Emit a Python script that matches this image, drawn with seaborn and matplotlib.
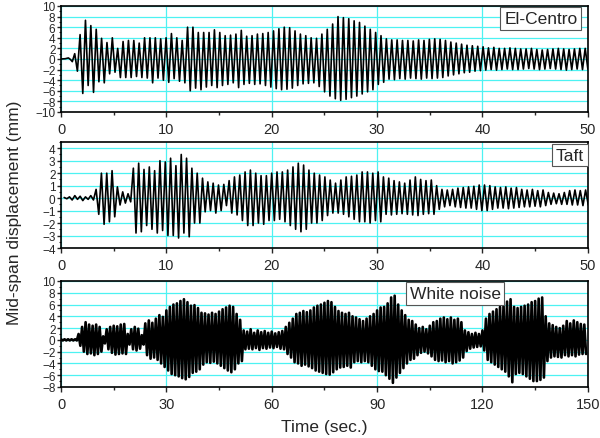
# Mid-span displacement under three excitations

import numpy as np
import matplotlib.pyplot as plt
import seaborn as sns
from matplotlib.ticker import MultipleLocator

sns.set_style("white")
plt.rcParams["font.family"] = ["Liberation Sans", "DejaVu Sans"]

# -----------------------------
# Data
# -----------------------------
# El-Centro: quiet start, then one peak and one trough per cycle
elc_pre_t = [0.0, 0.4, 0.7, 0.9, 1.07]
elc_pre_y = [0.0, 0.05, 0.2, -0.1, -0.5]
elc_t0, elc_period = 1.3, 0.51
elc_pk = [1.0, 4.6, 7.3, 6.3, 5.6, 3.9, 3.1, 4.0, 2.0, 3.3,
          3.5, 3.5, 3.0, 4.0, 4.0, 4.0, 3.8, 4.0, 4.8, 4.0,
          3.5, 6.0, 6.0, 5.0, 5.0, 5.0, 5.5, 5.0, 4.4, 4.5,
          4.7, 5.4, 4.3, 4.4, 4.7, 4.8, 5.0, 5.3, 5.7, 6.0,
          5.9, 5.3, 4.7, 4.4, 4.0, 3.9, 4.7, 5.6, 6.6, 8.0,
          7.8, 7.6, 7.2, 6.9, 6.2, 5.6, 5.0, 4.4, 3.8, 3.6,
          3.6, 3.5, 3.5, 3.4, 3.6, 3.5, 3.7, 3.8, 3.7, 3.5,
          3.2, 3.0, 2.8, 2.6, 2.5, 2.4, 2.3, 2.1, 2.2, 2.0,
          2.0, 2.1, 2.0, 1.9, 1.9, 2.0, 1.8, 1.7, 1.8, 1.9,
          2.0, 1.9, 1.8, 1.9, 2.0, 2.0]
elc_tr = [-2.3, -6.5, -5.0, -6.3, -4.3, -4.5, -2.8, -2.5, -3.5, -3.5,
          -3.5, -3.3, -3.5, -3.6, -4.5, -3.6, -4.0, -4.4, -3.7, -4.2,
          -4.5, -6.0, -5.5, -5.8, -5.3, -5.0, -5.4, -5.0, -4.8, -4.5,
          -5.4, -4.8, -4.6, -4.8, -4.7, -5.0, -5.3, -5.6, -5.8, -5.7,
          -5.5, -5.0, -4.7, -4.6, -4.5, -5.2, -6.2, -7.0, -7.5, -7.8,
          -7.6, -7.3, -7.0, -6.6, -6.2, -5.8, -4.8, -4.4, -3.8, -3.9,
          -3.7, -3.8, -3.6, -3.7, -3.8, -3.6, -3.7, -3.6, -3.5, -3.2,
          -3.0, -2.8, -2.6, -2.5, -2.3, -2.2, -2.1, -2.0, -2.1, -2.0,
          -1.9, -2.0, -2.0, -1.9, -1.8, -1.9, -2.0, -1.9, -1.8, -1.9,
          -2.0, -2.1, -2.0, -1.9, -2.0, -1.9]

# Taft
taft_t0, taft_period = 0.3, 0.505
taft_pk = [0.05, 0.1, 0.2, 0.15, 0.1, 0.2, 0.7, 2.0, 2.0, 2.2,
           0.9, 0.5, 0.35, 2.4, 2.8, 2.3, 2.5, 2.2, 3.0, 2.9,
           3.2, 2.6, 3.5, 3.2, 2.4, 2.0, 1.6, 1.3, 1.2, 1.05,
           1.1, 1.4, 1.7, 1.85, 2.1, 2.25, 2.0, 1.8, 1.8, 2.0,
           2.1, 2.1, 2.25, 2.5, 2.8, 2.65, 2.25, 2.0, 1.85, 1.7,
           1.45, 1.2, 1.45, 1.7, 1.75, 1.85, 2.1, 2.1, 2.0, 2.1,
           1.7, 1.6, 1.4, 1.3, 1.2, 1.45, 1.7, 1.5, 1.4, 1.45,
           1.0, 0.7, 0.65, 0.7, 0.8, 0.85, 0.9, 0.95, 1.05, 1.05,
           1.0, 0.9, 0.85, 0.9, 0.8, 0.85, 0.7, 0.65, 0.7, 0.6,
           0.65, 0.45, 0.4, 0.35, 0.45, 0.6, 0.65, 0.6, 0.65]
taft_tr = [-0.05, -0.15, -0.1, -0.2, -0.1, -0.15, -1.3, -2.1, -1.9, -1.5,
           -0.55, -0.4, -0.3, -2.8, -2.7, -2.2, -2.5, -2.8, -2.6, -3.0,
           -3.0, -3.2, -2.8, -3.1, -2.0, -2.0, -1.1, -1.0, -1.2, -1.0,
           -0.6, -1.2, -1.35, -1.8, -2.2, -2.2, -2.0, -2.1, -1.8, -1.8,
           -1.7, -1.9, -2.2, -2.5, -2.7, -2.5, -2.0, -2.0, -1.8, -1.4,
           -1.2, -1.2, -1.3, -1.5, -1.7, -1.9, -1.9, -2.0, -1.8, -1.9,
           -1.3, -1.35, -1.3, -1.25, -1.3, -1.35, -1.4, -1.3, -1.25, -1.3,
           -0.9, -0.7, -0.6, -0.7, -0.75, -0.8, -0.8, -0.9, -1.0, -1.0,
           -0.9, -0.8, -0.8, -0.85, -0.8, -0.75, -0.7, -0.7, -0.65, -0.7,
           -0.6, -0.5, -0.45, -0.5, -0.5, -0.55, -0.55, -0.6, -0.55]

# White noise: upper and lower extremes for each second, 0..149 s
wn_hi = [0.1, 0.1, 0.1, 0.1, 0.1, 1.0, 2.2, 3.0, 2.6, 2.4,
         2.6, 2.2, 0.6, 1.8, 2.2, 2.4, 2.3, 2.6, 2.7, 1.0,
         1.8, 2.2, 1.9, 0.8, 2.8, 3.3, 2.9, 3.6, 4.2, 3.9,
         5.0, 5.6, 6.0, 6.2, 6.6, 6.9, 6.4, 5.8, 5.9, 5.4,
         4.6, 4.5, 4.3, 4.6, 4.4, 4.8, 5.2, 5.5, 5.8, 5.6,
         4.4, 3.4, 1.6, 1.4, 1.8, 1.2, 1.6, 1.3, 1.5, 1.2,
         1.4, 1.1, 1.3, 1.5, 2.2, 2.9, 3.6, 4.4, 4.6, 4.9,
         4.7, 5.0, 5.5, 5.8, 6.0, 6.3, 6.6, 6.4, 5.6, 4.9,
         4.6, 4.4, 4.6, 4.0, 3.8, 3.5, 3.2, 3.6, 4.0, 4.4,
         5.0, 5.5, 5.6, 6.2, 7.2, 7.5, 6.0, 5.0, 4.2, 3.4,
         3.2, 2.6, 2.0, 2.2, 1.8, 2.4, 3.0, 3.2, 3.6, 3.8,
         3.5, 3.8, 3.4, 3.6, 3.0, 1.6, 1.3, 1.0, 1.2, 1.0,
         1.6, 3.6, 4.4, 4.8, 5.2, 5.6, 6.0, 6.5, 6.9, 5.6,
         5.4, 5.6, 5.8, 6.0, 6.4, 6.6, 7.0, 7.2, 4.0, 2.8,
         2.5, 2.2, 2.0, 2.4, 3.2, 2.8, 3.3, 3.0, 2.7, 2.6]
wn_lo = [-0.1, -0.1, -0.1, -0.1, -0.1, -1.0, -2.0, -2.4, -2.3, -2.6,
         -2.4, -2.0, -0.6, -1.6, -2.2, -2.5, -2.4, -2.3, -2.4, -0.8,
         -1.6, -1.8, -1.5, -0.8, -2.6, -3.2, -3.0, -3.4, -4.0, -4.6,
         -5.2, -5.8, -6.0, -6.2, -6.5, -6.7, -6.3, -5.6, -5.4, -5.0,
         -4.2, -3.8, -3.9, -3.7, -4.0, -4.4, -4.8, -5.2, -5.5, -5.0,
         -4.0, -3.6, -1.6, -1.5, -1.6, -1.4, -1.7, -1.4, -1.5, -1.3,
         -1.4, -1.2, -1.5, -1.6, -2.4, -3.0, -3.8, -4.0, -4.4, -4.2,
         -4.5, -4.8, -5.2, -5.4, -5.6, -5.8, -5.9, -5.5, -5.0, -4.7,
         -4.6, -4.4, -4.7, -3.8, -3.6, -3.8, -3.6, -3.8, -4.4, -5.0,
         -5.3, -5.4, -6.0, -6.6, -7.3, -6.4, -5.6, -4.8, -4.0, -3.4,
         -3.2, -2.6, -2.2, -2.0, -2.3, -2.8, -3.4, -3.6, -3.5, -3.8,
         -3.6, -4.0, -3.8, -3.5, -3.0, -1.9, -1.5, -1.3, -1.2, -1.1,
         -1.8, -3.4, -3.8, -4.2, -4.6, -5.0, -5.4, -6.2, -7.2, -5.8,
         -5.6, -5.8, -6.2, -6.6, -7.0, -7.0, -6.8, -6.4, -3.6, -3.0,
         -2.8, -2.9, -3.0, -2.6, -2.8, -2.6, -2.8, -2.5, -2.4, -2.4]


def zigzag(t0, period, peaks, troughs):
    t = t0 + period * np.arange(len(peaks))
    ts = np.column_stack([t, t + period / 2]).ravel()
    ys = np.column_stack([peaks, troughs]).ravel()
    return ts, ys


elc_t, elc_y = zigzag(elc_t0, elc_period, elc_pk, elc_tr)
elc_t = np.concatenate([elc_pre_t, elc_t])
elc_y = np.concatenate([elc_pre_y, elc_y])
taft_t, taft_y = zigzag(taft_t0, taft_period, taft_pk, taft_tr)
wn_t, wn_y = zigzag(0.0, 1.0, wn_hi, wn_lo)

panels = [
    (elc_t, elc_y, 1.2, (0, 50), 10, 5, (-10, 10), 2, 1, "El-Centro", (0.911, 0.882)),
    (taft_t, taft_y, 1.2, (0, 50), 10, 5, (-4, 4.5), 1, 0.5, "Taft", (0.966, 0.877)),
    (wn_t, wn_y, 1.9, (0, 150), 30, 15, (-8, 10), 2, 1, "White noise", (0.748, 0.882)),
]

fig = plt.figure(figsize=(6.0, 4.39), dpi=100)
bottoms = [0.7426, 0.4328, 0.1162]
grid_c = "#4DF2F2"

for (t, y, lw, xlim, xmaj, xmin, ylim, ymaj, ymin, name, pos), b in zip(panels, bottoms):
    ax = fig.add_axes([0.1017, b, 0.878, 0.2415])
    sns.lineplot(x=t, y=y, ax=ax, color="black", linewidth=lw, estimator=None)
    ax.set_xlim(*xlim)
    ax.set_ylim(*ylim)
    ax.xaxis.set_major_locator(MultipleLocator(xmaj))
    ax.xaxis.set_minor_locator(MultipleLocator(xmin))
    ax.yaxis.set_major_locator(MultipleLocator(ymaj))
    ax.yaxis.set_minor_locator(MultipleLocator(ymin))
    ax.set_yticks(np.arange(ylim[0], ylim[1] + 0.01, ymaj))
    ax.grid(True, which="major", color=grid_c, linewidth=0.9)
    ax.set_axisbelow(True)
    for s in ax.spines.values():
        s.set_color("black")
        s.set_linewidth(1.2)
    ax.tick_params(axis="x", which="major", direction="out", length=3.5, width=1,
                   labelsize=10.5, pad=4, bottom=True, top=False)
    ax.tick_params(axis="x", which="minor", direction="out", length=2, width=1,
                   bottom=True, top=False)
    ax.tick_params(axis="y", which="major", direction="out", length=3, width=1,
                   labelsize=8.5, pad=1, left=True, right=False)
    ax.tick_params(axis="y", which="minor", direction="out", length=1.8, width=0.8,
                   left=True, right=False)
    ax.set_xlabel("")
    ax.set_ylabel("")
    ax.text(pos[0], pos[1], name, transform=ax.transAxes, ha="center", va="center",
            fontsize=12.5, zorder=5,
            bbox=dict(boxstyle="square,pad=0.22", facecolor="white",
                      edgecolor="#555555", linewidth=0.8))

fig.text(0.025, 0.515, "Mid-span displacement (mm)", rotation=90,
         ha="center", va="center", fontsize=12.5)
fig.text(0.541, 0.027, "Time (sec.)", ha="center", va="center", fontsize=12.5)

fig.savefig("out.png", dpi=100)
